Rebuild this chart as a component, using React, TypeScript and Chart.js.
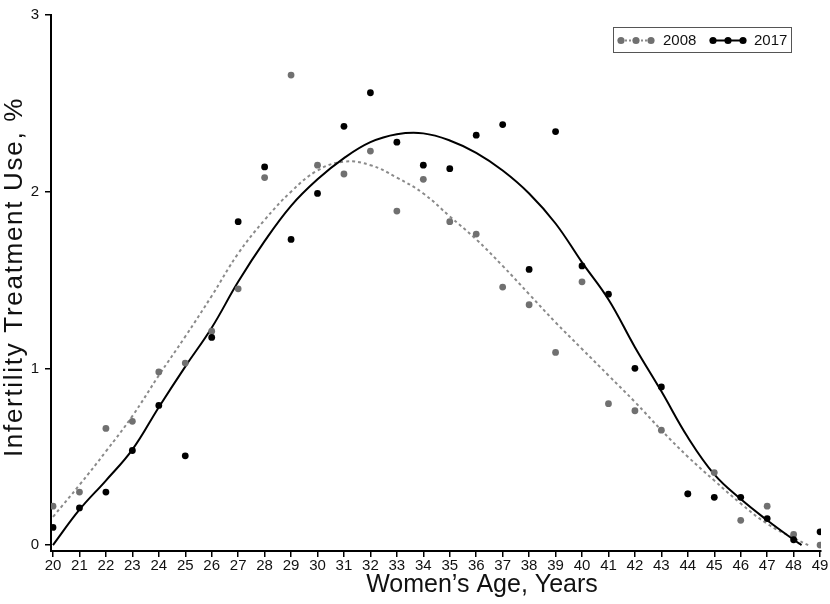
import React, { useEffect, useRef } from "react";
import { Chart, registerables } from "chart.js";

Chart.register(...registerables);

// ---- data ----
const ages = [20, 21, 22, 23, 24, 25, 26, 27, 28, 29, 30, 31, 32, 33, 34, 35, 36, 37, 38, 39, 40, 41, 42, 43, 44, 45, 46, 47, 48, 49];
const use2008 = [0.22, 0.3, 0.66, 0.7, 0.98, 1.03, 1.21, 1.45, 2.08, 2.66, 2.15, 2.1, 2.23, 1.89, 2.07, 1.83, 1.76, 1.46, 1.36, 1.09, 1.49, 0.8, 0.76, 0.65, 0.29, 0.41, 0.14, 0.22, 0.06, 0.0];
const use2017 = [0.1, 0.21, 0.3, 0.535, 0.79, 0.505, 1.175, 1.83, 2.14, 1.73, 1.99, 2.37, 2.56, 2.28, 2.15, 2.13, 2.32, 2.38, 1.56, 2.34, 1.58, 1.42, 1.0, 0.895, 0.29, 0.27, 0.27, 0.15, 0.03, 0.075];

const fitAges2008 = [20, 21, 22, 23, 24, 25, 26, 27, 28, 29, 30, 31, 32, 33, 34, 35, 36, 37, 38, 39, 40, 41, 42, 43, 44, 45, 46, 47, 48, 48.55];
const fit2008 = [0.16, 0.34, 0.53, 0.73, 0.96, 1.18, 1.41, 1.65, 1.84, 2.0, 2.12, 2.17, 2.15, 2.08, 1.99, 1.86, 1.73, 1.58, 1.42, 1.26, 1.11, 0.96, 0.81, 0.65, 0.5, 0.365, 0.235, 0.12, 0.04, 0.0];
const fitAges2017 = [20, 21, 22, 23, 24, 25, 26, 27, 28, 29, 30, 31, 32, 33, 34, 35, 36, 37, 38, 39, 40, 41, 42, 43, 44, 45, 46, 47, 48, 48.3];
const fit2017 = [0.0, 0.2, 0.365, 0.54, 0.78, 1.01, 1.23, 1.49, 1.72, 1.92, 2.07, 2.19, 2.28, 2.325, 2.33, 2.29, 2.22, 2.12, 1.99, 1.82, 1.6, 1.39, 1.12, 0.87, 0.61, 0.4, 0.26, 0.14, 0.03, 0.0];

const seriesNames = ["2008", "2017"];
const xTitle = "Women\u2019s Age, Years";
const yTitle = "Infertility Treatment Use, %";

const FONT = "'Liberation Sans', Arial, sans-serif";
const GRAY_DOT = "#707070";
const GRAY_LINE = "#8a8a8a";
const BLACK = "#000000";

const pts = (xs: number[], ys: number[]) => xs.map((x, i) => ({ x, y: ys[i] }));

const overlayPlugin = {
  id: "overlay",
  afterDraw(chart: any) {
    const ctx = chart.ctx as any;
    ctx.save();
    // axis titles
    ctx.fillStyle = "#111";
    ctx.font = `25px ${FONT}`;
    ctx.textAlign = "center";
    ctx.textBaseline = "alphabetic";
    ctx.fillText(xTitle, 482, 592);
    ctx.save();
    ctx.translate(22, 277);
    ctx.rotate(-Math.PI / 2);
    ctx.font = `26px ${FONT}`;
    if ("letterSpacing" in ctx) ctx.letterSpacing = "1.7px";
    ctx.fillText(yTitle, 0, 0);
    ctx.restore();

    // legend
    ctx.strokeStyle = "#555";
    ctx.lineWidth = 1;
    ctx.strokeRect(613.5, 27.5, 178, 25);
    const drawItem = (x0: number, color: string, lineColor: string, dash: number[], label: string, tx: number) => {
      const y = 40.5;
      ctx.strokeStyle = lineColor;
      ctx.lineWidth = 2;
      ctx.setLineDash(dash);
      ctx.beginPath();
      ctx.moveTo(x0, y);
      ctx.lineTo(x0 + 30, y);
      ctx.stroke();
      ctx.setLineDash([]);
      ctx.fillStyle = color;
      for (let k = 0; k < 3; k++) {
        ctx.beginPath();
        ctx.arc(x0 + k * 15, y, 3.6, 0, Math.PI * 2);
        ctx.fill();
      }
      ctx.fillStyle = "#111";
      ctx.font = `15px ${FONT}`;
      ctx.textAlign = "left";
      ctx.textBaseline = "middle";
      ctx.fillText(label, tx, y + 0.5);
    };
    drawItem(621, GRAY_DOT, GRAY_LINE, [2, 2], seriesNames[0], 663);
    drawItem(713, BLACK, BLACK, [], seriesNames[1], 754);
    ctx.restore();
  },
};

export default function App() {
  const ref = useRef<HTMLCanvasElement | null>(null);
  useEffect(() => {
    if (!ref.current) return;
    const chart = new Chart(ref.current, {
      type: "scatter",
      data: {
        datasets: [
          {
            label: seriesNames[1],
            data: pts(ages, use2017),
            backgroundColor: BLACK,
            borderColor: BLACK,
            pointRadius: 3.4,
            borderWidth: 0,
            showLine: false,
            order: 0,
          },
          {
            label: seriesNames[0],
            data: pts(ages, use2008),
            backgroundColor: GRAY_DOT,
            borderColor: GRAY_DOT,
            pointRadius: 3.4,
            borderWidth: 0,
            showLine: false,
            order: 1,
          },
          {
            label: seriesNames[1] + " fit",
            data: pts(fitAges2017, fit2017),
            borderColor: BLACK,
            borderWidth: 2,
            pointRadius: 0,
            showLine: true,
            tension: 0.4,
            order: 2,
          },
          {
            label: seriesNames[0] + " fit",
            data: pts(fitAges2008, fit2008),
            borderColor: GRAY_LINE,
            borderWidth: 2,
            borderDash: [3, 3],
            pointRadius: 0,
            showLine: true,
            tension: 0.4,
            order: 3,
          },
        ],
      },
      options: {
        responsive: false,
        animation: false,
        layout: { padding: { left: 0, right: 9, top: 11, bottom: 0 } },
        plugins: { legend: { display: false }, tooltip: { enabled: false } },
        scales: {
          x: {
            type: "linear",
            min: 19.924,
            max: 49.035,
            afterBuildTicks: (scale: any) => {
              scale.ticks = ages.map((a) => ({ value: a }));
            },
            afterFit: (scale: any) => {
              scale.height = 53;
            },
            ticks: {
              stepSize: 1,
              autoSkip: false,
              maxRotation: 0,
              padding: 0,
              color: "#111",
              font: { family: FONT, size: 15 },
            },
            grid: { display: true, drawOnChartArea: false, drawTicks: true, tickLength: 6, color: BLACK, lineWidth: 1.5 },
            border: { display: true, color: BLACK, width: 2 },
          },
          y: {
            type: "linear",
            min: -0.0337,
            max: 3,
            afterBuildTicks: (scale: any) => {
              scale.ticks = [0, 1, 2, 3].map((v) => ({ value: v }));
            },
            afterFit: (scale: any) => {
              scale.width = 51;
            },
            ticks: {
              stepSize: 1,
              padding: 6,
              color: "#111",
              font: { family: FONT, size: 15 },
            },
            grid: { display: true, drawOnChartArea: false, drawTicks: true, tickLength: 6, color: BLACK, lineWidth: 1.5 },
            border: { display: true, color: BLACK, width: 2 },
          },
        },
      },
      plugins: [overlayPlugin],
    } as any);
    return () => chart.destroy();
  }, []);
  return (
    <div style={{ position: "absolute", left: 0, top: 0, width: 830, height: 604, background: "#fff" }}>
      <canvas ref={ref} width={830} height={604} style={{ display: "block" }} />
    </div>
  );
}
